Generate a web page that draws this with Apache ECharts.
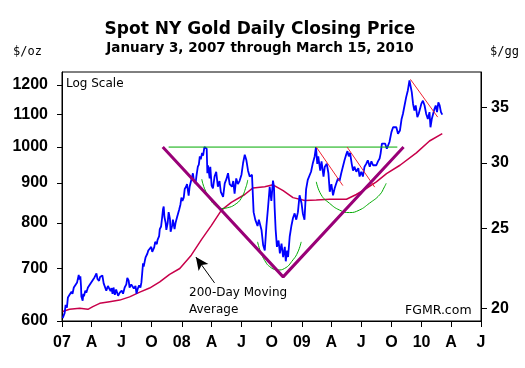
<!DOCTYPE html>
<html><head><meta charset="utf-8">
<script src="https://cdn.jsdelivr.net/npm/echarts@6/dist/echarts.min.js"></script>
<style>html,body{margin:0;padding:0;background:#fff}#c{width:525px;height:368px}</style>
</head><body><div id="c"></div>
<script>
// ---- Daily closing price ----
const closeDates = [
'2007-01-03','2007-01-05','2007-01-09','2007-01-12','2007-01-16','2007-01-19','2007-01-24','2007-01-30','2007-02-02','2007-02-06','2007-02-12','2007-02-16','2007-02-21','2007-02-23','2007-02-26','2007-02-28','2007-03-01','2007-03-05','2007-03-07','2007-03-09','2007-03-13','2007-03-16','2007-03-21','2007-03-26','2007-03-29','2007-04-02','2007-04-05','2007-04-10','2007-04-13','2007-04-16','2007-04-19','2007-04-24','2007-04-27','2007-05-01','2007-05-04','2007-05-08','2007-05-11','2007-05-16','2007-05-21','2007-05-24','2007-05-29','2007-06-01','2007-06-04','2007-06-07','2007-06-11','2007-06-15','2007-06-21','2007-06-26','2007-07-02','2007-07-06','2007-07-11','2007-07-16','2007-07-19','2007-07-23','2007-07-26','2007-07-31','2007-08-03','2007-08-08','2007-08-13','2007-08-16','2007-08-20','2007-08-24','2007-08-28','2007-08-31','2007-09-05','2007-09-07','2007-09-11','2007-09-13','2007-09-18','2007-09-21','2007-09-26','2007-09-30','2007-10-03','2007-10-05','2007-10-09','2007-10-12','2007-10-17','2007-10-19','2007-10-24','2007-10-26','2007-10-30','2007-11-02','2007-11-05','2007-11-07','2007-11-09','2007-11-13','2007-11-15','2007-11-19','2007-11-22','2007-11-26','2007-11-28','2007-12-03','2007-12-05','2007-12-10','2007-12-13','2007-12-18','2007-12-24','2007-12-28','2007-12-31',
'2008-01-03','2008-01-07','2008-01-10','2008-01-14','2008-01-17','2008-01-22','2008-01-25','2008-01-30','2008-02-04','2008-02-07','2008-02-12','2008-02-15','2008-02-19','2008-02-22','2008-02-25','2008-02-28','2008-03-03','2008-03-06','2008-03-10','2008-03-13','2008-03-17','2008-03-19','2008-03-21','2008-03-26','2008-03-28','2008-04-01','2008-04-05','2008-04-10','2008-04-15','2008-04-20','2008-04-25','2008-04-29','2008-05-06','2008-05-11','2008-05-16','2008-05-21','2008-05-26','2008-06-02','2008-06-06','2008-06-10','2008-06-15','2008-06-20','2008-06-25','2008-07-01','2008-07-06','2008-07-11','2008-07-16','2008-07-21','2008-07-26','2008-08-02','2008-08-07','2008-08-12','2008-08-19','2008-08-23','2008-08-31','2008-09-05','2008-09-10','2008-09-15','2008-09-20','2008-09-25','2008-09-30','2008-10-05','2008-10-08','2008-10-10','2008-10-13','2008-10-17','2008-10-22','2008-10-26','2008-10-31','2008-11-05','2008-11-10','2008-11-13','2008-11-17','2008-11-20','2008-11-25','2008-11-30','2008-12-05','2008-12-10','2008-12-15','2008-12-20','2008-12-25','2008-12-31',
'2009-01-04','2009-01-09','2009-01-14','2009-01-19','2009-01-22','2009-01-29','2009-02-03','2009-02-09','2009-02-13','2009-02-17','2009-02-20','2009-02-26','2009-03-02','2009-03-08','2009-03-12','2009-03-18','2009-03-23','2009-03-27','2009-04-01','2009-04-06','2009-04-11','2009-04-16','2009-04-21','2009-04-26','2009-05-01','2009-05-06','2009-05-11','2009-05-16','2009-05-20','2009-05-24','2009-05-28','2009-06-02','2009-06-06','2009-06-10','2009-06-16','2009-06-22','2009-06-26','2009-07-01','2009-07-06','2009-07-11','2009-07-16','2009-07-21','2009-07-27','2009-08-01','2009-08-06','2009-08-11','2009-08-16','2009-08-21','2009-08-26','2009-08-29','2009-09-02','2009-09-07','2009-09-12','2009-09-17','2009-09-25','2009-10-01','2009-10-06','2009-10-11','2009-10-16','2009-10-21','2009-10-27','2009-11-01','2009-11-05','2009-11-10','2009-11-15','2009-11-20','2009-11-25','2009-11-28','2009-12-02','2009-12-06','2009-12-10','2009-12-14','2009-12-19','2009-12-23','2009-12-27','2009-12-31',
'2010-01-05','2010-01-10','2010-01-15','2010-01-20','2010-01-25','2010-01-28','2010-02-01','2010-02-05','2010-02-09','2010-02-13','2010-02-17','2010-02-21','2010-02-25','2010-03-01','2010-03-05'
];
const closeValues = [
605,603,614,629,624,643,648,654,650,662,668,672,687,678,684,664,645,637,650,645,656,652,662,659,670,667,677,682,686,690,679,675,683,680,686,670,667,656,665,668,655,661,650,662,648,658,646,652,656,650,662,668,681,676,662,668,671,660,665,650,660,666,662,672,711,704,718,724,731,738,734,746,735,731,745,757,752,761,770,786,792,812,834,840,815,800,784,800,826,810,780,795,808,786,800,815,832,845,862,
854,862,884,890,897,867,890,908,926,905,899,920,944,950,973,965,983,975,1000,1002,995,926,948,912,944,893,886,917,930,890,905,877,864,899,910,926,897,890,905,872,912,897,905,922,955,978,962,933,917,922,826,808,793,808,784,750,738,793,838,890,854,906,890,838,786,746,760,732,753,724,746,715,738,724,769,793,812,823,808,826,868,848,
823,808,884,908,906,930,952,973,1000,952,973,933,959,917,944,952,926,877,897,868,886,899,912,906,926,944,962,978,988,973,983,952,933,944,930,940,917,930,917,944,952,962,944,959,948,952,948,959,967,981,1010,1015,1010,995,1015,1045,1060,1060,1060,1040,1050,1086,1102,1130,1158,1181,1216,1216,1175,1135,1113,1130,1092,1102,1118,1135,
1146,1130,1102,1086,1108,1060,1086,1102,1118,1130,1108,1140,1130,1108,1100
];
// ---- 200-day moving average ----
const maDates = ['2007-01-03','2007-01-24','2007-02-24','2007-03-21','2007-04-05','2007-04-26','2007-05-26','2007-06-26','2007-07-26','2007-08-26','2007-09-25','2007-10-26','2007-11-25','2007-12-26','2008-01-30','2008-03-01','2008-03-31','2008-05-01','2008-05-31','2008-07-11','2008-08-05','2008-09-10','2008-10-05','2008-11-05','2008-12-05','2009-01-10','2009-02-14','2009-03-27','2009-05-17','2009-06-16','2009-07-17','2009-08-16','2009-09-16','2009-10-27','2009-12-16','2010-01-25','2010-03-05'];
const maValues = [617,621,623,621,626,632,635,638,644,653,661,673,688,700,728,762,794,831,850,870,887,890,895,880,862,855,856,858,858,870,886,903,925,948,983,1018,1040];
// ---- annotation lines (dates / prices) ----
const necklineDates = ['2007-11-22','2009-10-19'];
const necklineValues = [1000,1000];
const vDates = ['2007-11-04','2008-11-05','2009-11-07'];
const vValues = [1000,683,1000];
const leftShoulderDates = ['2008-03-02','2008-03-10','2008-03-26','2008-04-10','2008-04-30','2008-05-20','2008-06-10','2008-06-30','2008-07-15','2008-07-20'];
const leftShoulderValues = [910,886,860,844,835,837,844,860,890,908];
const headDates = ['2008-08-19','2008-08-30','2008-09-15','2008-09-25','2008-10-10','2008-10-20','2008-11-09','2008-12-05','2008-12-20','2008-12-30'];
const headValues = [757,732,711,704,698,697,700,718,735,757];
const rightShoulderDates = ['2009-02-14','2009-03-01','2009-03-26','2009-04-26','2009-05-26','2009-06-25','2009-07-26','2009-08-26','2009-09-10','2009-09-15'];
const rightShoulderValues = [903,869,848,831,825,831,848,869,890,899];
const trend1Dates = ['2009-02-14','2009-05-06']; const trend1Values = [1000,893];
const trend2Dates = ['2009-05-19','2009-08-11']; const trend2Values = [1000,889];
const trend3Dates = ['2009-11-28','2010-02-19']; const trend3Values = [1220,1092];
const arrowDates = ['2008-04-10','2008-02-13']; const arrowValues = [671,724];
// ---- axes ----
const leftTicks = [600,700,800,900,1000,1100,1200];
const rightTicks = [20,25,30,35];
const quarterDates = ['2007-01-01','2007-04-01','2007-07-01','2007-10-01','2008-01-01','2008-04-01','2008-07-01','2008-10-01','2009-01-01','2009-04-01','2009-07-01','2009-10-01','2010-01-01','2010-04-01','2010-07-01'];
const quarterLabels = ['07','A','J','O','08','A','J','O','09','A','J','O','10','A','J'];

function ts(s){const p=s.split('-');return Date.UTC(+p[0],+p[1]-1,+p[2]);}
function pts(dates, vals){return dates.map((d,i)=>[ts(d), Math.log(vals[i])]);}
const qTs = quarterDates.map(ts);

const chart = echarts.init(document.getElementById('c'), null, {renderer:'canvas'});
const axisFont = {fontFamily:'"Liberation Sans", Arial, sans-serif', fontWeight:'bold', fontSize:16, color:'#000'};
const overlay = (data, color, width, smooth) => ({type:'line', data, showSymbol:false, symbol:'none', smooth: smooth||false, silent:true, lineStyle:{color, width}, yAxisIndex:0, z:3});
const txt = (text, x, y, font, align) => ({type:'text', x, y, silent:true, style:{text, font, fill:'#000', align: align||'left', verticalAlign:'middle'}});

chart.setOption({
  animation:false,
  grid:{left:62, right:44, top:72, bottom:47, show:true, borderColor:'#000', borderWidth:1, backgroundColor:'transparent'},
  xAxis:{type:'value', min:ts('2007-01-01'), max:ts('2010-07-01'),
    axisLine:{show:true, lineStyle:{color:'#000', width:1}},
    axisTick:{show:true, customValues:qTs, length:6, lineStyle:{color:'#000'}},
    axisLabel:{customValues:qTs, margin:14, ...axisFont, formatter:v=>{const i=qTs.indexOf(v);return i>=0?quarterLabels[i]:'';}},
    splitLine:{show:false}},
  yAxis:[
    {type:'value', position:'left', min:Math.log(600), max:Math.log(1246.7),
     axisLine:{show:true, lineStyle:{color:'#000', width:1}},
     axisTick:{show:true, customValues:leftTicks.map(Math.log), length:5, lineStyle:{color:'#000'}},
     axisLabel:{customValues:leftTicks.map(Math.log), margin:14, ...axisFont, formatter:v=>String(Math.round(Math.exp(v)))},
     splitLine:{show:false}},
    {type:'value', position:'right', min:Math.log(19.326), max:Math.log(38.66),
     axisLine:{show:true, lineStyle:{color:'#000', width:1}},
     axisTick:{show:true, customValues:rightTicks.map(Math.log), length:6, lineStyle:{color:'#000'}},
     axisLabel:{customValues:rightTicks.map(Math.log), margin:10, ...axisFont, formatter:v=>String(Math.round(Math.exp(v)))},
     splitLine:{show:false}}
  ],
  series:[
    {name:'MA', type:'line', data:pts(maDates, maValues), showSymbol:false, symbol:'none', silent:true, lineStyle:{color:'#c8004a', width:1.5}, z:2,
     markLine:{silent:true, symbol:['none','arrow'], symbolSize:[9,13], label:{show:false}, lineStyle:{color:'#000', width:1, type:'solid'},
       data:[[{coord:[ts(arrowDates[0]), Math.log(arrowValues[0])]},{coord:[ts(arrowDates[1]), Math.log(arrowValues[1])]}]]}},
    {name:'Close', type:'line', data:pts(closeDates, closeValues), showSymbol:false, symbol:'none', silent:true, lineStyle:{color:'#0000ff', width:1.8}, z:2},
    overlay(pts(necklineDates, necklineValues), '#00aa00', 1),
    overlay(pts(leftShoulderDates, leftShoulderValues), '#00aa00', 1, true),
    overlay(pts(headDates, headValues), '#00aa00', 1, true),
    overlay(pts(rightShoulderDates, rightShoulderValues), '#00aa00', 1, true),
    overlay(pts(trend1Dates, trend1Values), '#ee2233', 1),
    overlay(pts(trend2Dates, trend2Values), '#ee2233', 1),
    overlay(pts(trend3Dates, trend3Values), '#ee2233', 1),
    overlay(pts(vDates, vValues), '#990077', 3)
  ],
  graphic:[
    txt('Spot NY Gold Daily Closing Price', 260, 30, 'bold 17px "DejaVu Sans"', 'center'),
    txt('January 3, 2007 through March 15, 2010', 260, 48, 'bold 13.5px "DejaVu Sans"', 'center'),
    txt('$/oz', 13, 52, '12px "DejaVu Sans Mono"'),
    txt('$/gg', 490, 52, '12px "DejaVu Sans Mono"'),
    txt('Log Scale', 66, 84, '12px "DejaVu Sans"'),
    txt('200-Day Moving', 189, 293, '12px "DejaVu Sans"'),
    txt('Average', 189, 310, '12px "DejaVu Sans"'),
    txt('FGMR.com', 405, 311, '12.5px "DejaVu Sans"')
  ]
});
</script></body></html>
